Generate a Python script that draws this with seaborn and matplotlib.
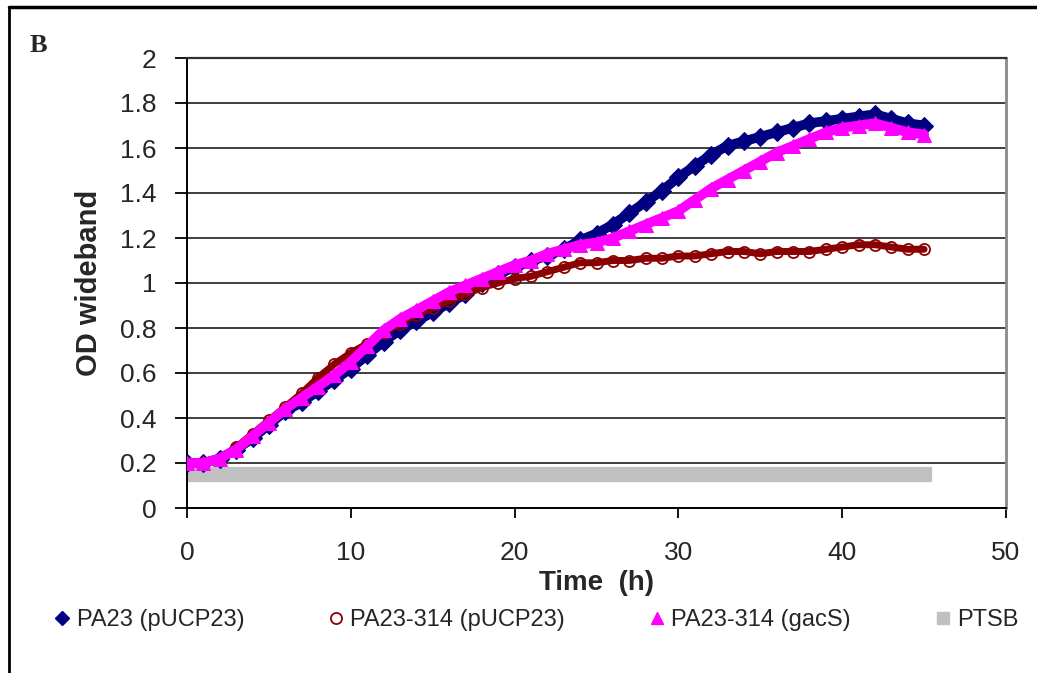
import numpy as np
import pandas as pd
import seaborn as sns
import matplotlib.pyplot as plt
from matplotlib.lines import Line2D

# Growth curves (OD wideband, one value per hour)
time_h = np.arange(0, 46, 1)

pa23_pucp23 = [0.20, 0.20, 0.22, 0.26, 0.31, 0.37, 0.43, 0.47, 0.52, 0.57,
               0.62, 0.68, 0.74, 0.79, 0.83, 0.87, 0.91, 0.95, 1.00, 1.04,
               1.07, 1.10, 1.12, 1.15, 1.19, 1.22, 1.26, 1.31, 1.36, 1.41,
               1.47, 1.52, 1.57, 1.61, 1.63, 1.65, 1.67, 1.69, 1.71, 1.72,
               1.73, 1.74, 1.75, 1.73, 1.71, 1.70]

pa23_314_pucp23 = [0.20, 0.20, 0.22, 0.27, 0.33, 0.39, 0.45, 0.51, 0.58, 0.64,
                   0.69, 0.73, 0.78, 0.82, 0.86, 0.89, 0.92, 0.95, 0.98, 1.00,
                   1.02, 1.03, 1.05, 1.07, 1.09, 1.09, 1.10, 1.10, 1.11, 1.11,
                   1.12, 1.12, 1.13, 1.14, 1.14, 1.13, 1.14, 1.14, 1.14, 1.15,
                   1.16, 1.17, 1.17, 1.16, 1.15, 1.15]

pa23_314_gacs = [0.20, 0.20, 0.22, 0.26, 0.32, 0.38, 0.44, 0.49, 0.54, 0.59,
                 0.65, 0.72, 0.79, 0.84, 0.88, 0.92, 0.96, 0.99, 1.02, 1.05,
                 1.08, 1.10, 1.13, 1.15, 1.17, 1.18, 1.20, 1.23, 1.26, 1.29,
                 1.32, 1.37, 1.42, 1.46, 1.50, 1.54, 1.58, 1.61, 1.64, 1.67,
                 1.69, 1.70, 1.71, 1.69, 1.67, 1.66]

ptsb = [0.15] * len(time_h)

labels = ["PA23 (pUCP23)", "PA23-314 (pUCP23)", "PA23-314 (gacS)", "PTSB"]
colors = ["#000080", "#8B0000", "#FF00FF", "#C0C0C0"]

df = pd.DataFrame({"time": time_h, "pa23": pa23_pucp23, "mut": pa23_314_pucp23,
                   "gacs": pa23_314_gacs, "ptsb": ptsb})

sns.set_style("white")
plt.rcParams["font.family"] = ["Liberation Sans", "DejaVu Sans"]

fig = plt.figure(figsize=(10.37, 6.73), dpi=100)
ax = fig.add_axes([187 / 1037, 1 - 508 / 673, 819 / 1037, 450 / 673])

# control band first, then the strains
sns.lineplot(data=df, x="time", y="ptsb", color=colors[3], linewidth=11,
             solid_capstyle="projecting", ax=ax, zorder=2)
sns.lineplot(data=df, x="time", y="pa23", color=colors[0], linewidth=7,
             marker="D", markersize=9, markeredgecolor=colors[0], ax=ax, zorder=3)
sns.lineplot(data=df, x="time", y="mut", color=colors[1], linewidth=5,
             marker="o", markersize=8, markerfacecolor="none",
             markeredgecolor=colors[1], markeredgewidth=1.3, ax=ax, zorder=4)
sns.lineplot(data=df, x="time", y="gacs", color=colors[2], linewidth=7,
             marker="^", markersize=10, markeredgecolor=colors[2], ax=ax, zorder=5)

ax.set_xlim(0, 50)
ax.set_ylim(0, 2)
ax.set_xticks(range(0, 51, 10))
yt = np.round(np.arange(0, 2.01, 0.2), 1)
ax.set_yticks(yt)
ax.set_yticklabels([("%g" % v) for v in yt])
ax.tick_params(axis="both", labelsize=19, width=1.3, color="black")
ax.tick_params(axis="y", direction="out", length=9, pad=13, left=True)
ax.tick_params(axis="x", direction="out", length=7, pad=17, bottom=True)

ax.yaxis.grid(True, color="#303030", linewidth=1.3)
ax.xaxis.grid(False)
ax.set_axisbelow(True)
for side in ["left", "bottom"]:
    ax.spines[side].set_color("black")
    ax.spines[side].set_linewidth(1.4)
ax.spines["top"].set_color("#303030")
ax.spines["top"].set_linewidth(1.6)
ax.spines["right"].set_color("#8a8a8a")
ax.spines["right"].set_linewidth(2)

ax.set_xlabel("Time  (h)", fontsize=20, fontweight="bold", labelpad=3)
ax.set_ylabel("OD wideband", fontsize=21, fontweight="bold", labelpad=12)

handles = [
    Line2D([], [], linestyle="none", marker="D", markersize=7, color=colors[0]),
    Line2D([], [], linestyle="none", marker="o", markersize=8, markerfacecolor="none",
           markeredgecolor=colors[1], markeredgewidth=1.3),
    Line2D([], [], linestyle="none", marker="^", markersize=9, color=colors[2]),
    Line2D([], [], linestyle="none", marker="s", markersize=8, color=colors[3]),
]
fig.legend(handles, labels, loc="center", ncol=4, frameon=False, fontsize=17,
           bbox_to_anchor=(537 / 1037, 1 - 620 / 673), handlelength=0.6,
           handletextpad=0.3, columnspacing=3.6)

fig.text(30 / 1037, 1 - 45 / 673, "B", fontsize=19, fontweight="bold",
         family="Liberation Serif", va="center", ha="left")

# outer frame of the panel
fig.add_artist(Line2D([9 / 1037, 1], [1 - 7 / 673, 1 - 7 / 673], color="black",
                      linewidth=2.5, transform=fig.transFigure))
fig.add_artist(Line2D([9 / 1037, 9 / 1037], [0, 1 - 7 / 673], color="black",
                      linewidth=2, transform=fig.transFigure))

fig.savefig("out.png", dpi=100, facecolor="white")
plt.close(fig)
